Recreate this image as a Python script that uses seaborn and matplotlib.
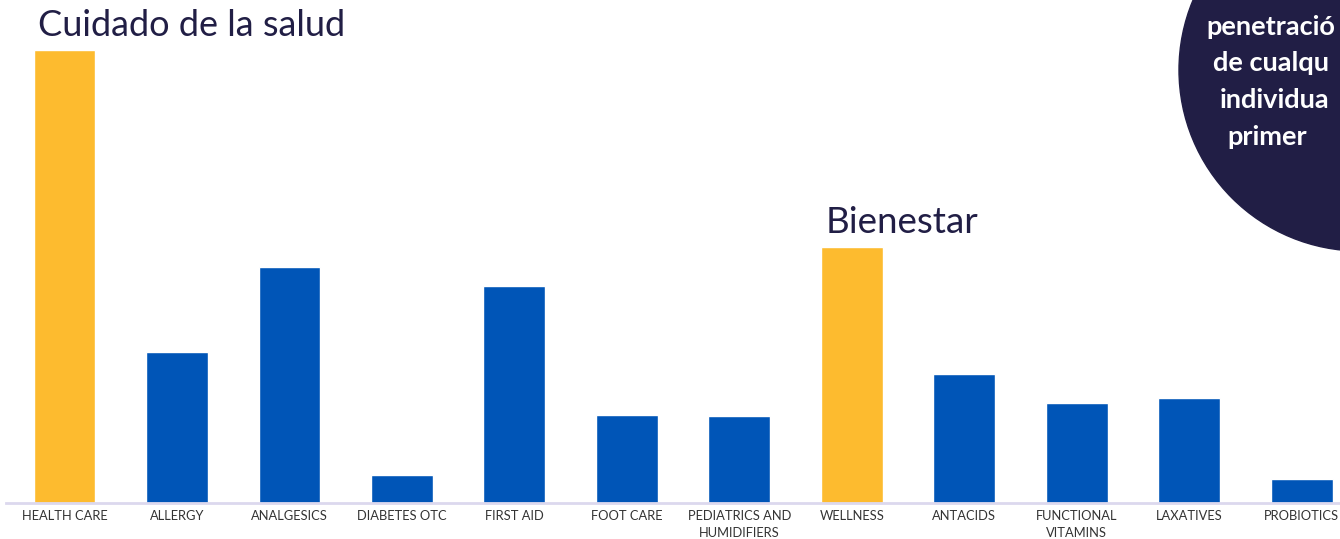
import matplotlib
matplotlib.use("Agg")
import matplotlib.pyplot as plt
from matplotlib.patches import Circle
import seaborn as sns
import pandas as pd

categories = ["HEALTH CARE", "ALLERGY", "ANALGESICS", "DIABETES OTC", "FIRST AID",
              "FOOT CARE", "PEDIATRICS AND\nHUMIDIFIERS", "WELLNESS", "ANTACIDS",
              "FUNCTIONAL\nVITAMINS", "LAXATIVES", "PROBIOTICS"]
values = [453, 151, 236, 28, 217, 88, 87, 256, 129, 100, 105, 24]
groups = ["total", "item", "item", "item", "item", "item", "item",
          "total", "item", "item", "item", "item"]
section_titles = ["Cuidado de la salud", "Bienestar"]
circle_lines = ["penetració", "de cualqu", "individua", "primer"]

YELLOW = "#FDBB2F"
BLUE = "#0055B7"
NAVY = "#211E45"

sns.set_theme(style="white")
plt.rcParams["font.family"] = ["Lato", "DejaVu Sans"]

df = pd.DataFrame({"cat": categories, "val": values, "grp": groups})

fig = plt.figure(figsize=(13.4, 5.39), dpi=100)
ax = fig.add_axes([6/1340, 36/539, 1334/1340, 463/539])
sns.barplot(data=df, x="cat", y="val", hue="grp",
            palette={"total": YELLOW, "item": BLUE}, dodge=False,
            width=0.55, legend=False, ax=ax, saturation=1)
ax.set_xlim(-0.52, 11.34)
ax.set_ylim(0, 463)
ax.set_xlabel("")
ax.set_ylabel("")
ax.set_yticks([])
for s in ["top", "right", "left"]:
    ax.spines[s].set_visible(False)
ax.spines["bottom"].set_color("#DCD8EE")
ax.spines["bottom"].set_linewidth(2)
ax.tick_params(axis="x", length=0, pad=5, labelsize=9.3, labelcolor="#333333")
for lbl in ax.get_xticklabels():
    lbl.set_linespacing(1.5)

ax.text(-0.236, 467, section_titles[0], fontsize=26, color=NAVY,
        ha="left", va="baseline", clip_on=False)
ax.text(6.77, 270, section_titles[1], fontsize=26.5, color=NAVY,
        ha="left", va="baseline", clip_on=False)

# overlay for the decorative circle
ov = fig.add_axes([0, 0, 1, 1], zorder=5)
ov.set_xlim(0, 1340)
ov.set_ylim(539, 0)
ov.axis("off")
ov.patch.set_alpha(0)
ov.add_patch(Circle((1360, 70), 181, color=NAVY))
xs = [1206, 1213, 1220, 1227]
ys = [27, 63, 100, 137]
for t, x, y in zip(circle_lines, xs, ys):
    ov.text(x, y, t, color="white", fontsize=19.5, fontweight="bold",
            ha="left", va="center")

fig.savefig("out.png", dpi=100)
